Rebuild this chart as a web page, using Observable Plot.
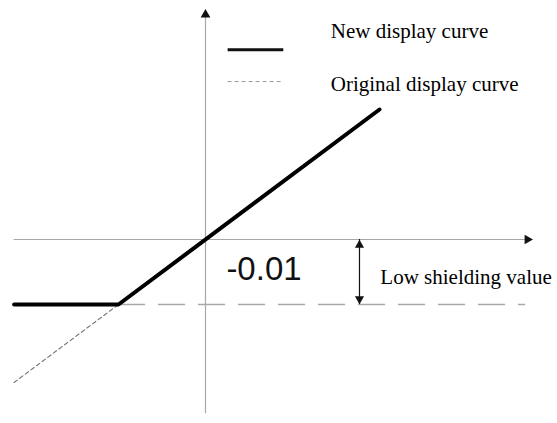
<!DOCTYPE html>
<html>
<head>
<meta charset="utf-8">
<script src="https://cdn.jsdelivr.net/npm/d3@7"></script>
<script src="https://cdn.jsdelivr.net/npm/@observablehq/plot@0.6"></script>
<style>
  html, body { margin: 0; padding: 0; background: #fff; }
</style>
</head>
<body>
<div id="chart"></div>
<script>
// ---- diagram values (data units) ----
const lowShielding = -0.01;                 // low shielding value
const inputRange = [-0.022, 0.02];          // extent of the display curves
const xAxisRange = [-0.022, 0.037];
const yAxisRange = [-0.0268, 0.0346];
const floorEnd = 0.0368;                    // end of the dashed floor line
const markerX = 0.0177;                     // x of the double-headed arrow
const legendLabels = ["New display curve", "Original display curve"];
const legendLineX = [0.0026, 0.009];
const legendLineY = [0.0292, 0.0243];
const legendTextX = 0.0144;
const legendTextY = [0.0310, 0.0229];
const valueLabel = "-0.01";
const valueLabelPos = [0.0024, -0.0063];
const rangeLabel = "Low shielding value";
const rangeLabelPos = [0.0201, -0.0068];

// new curve: clipped at low shielding value, identity above
const newCurve = [
  {x: inputRange[0], y: lowShielding},
  {x: lowShielding, y: lowShielding},
  {x: inputRange[1], y: inputRange[1]}
];
// original curve below the clip point
const origCurve = [
  {x: inputRange[0], y: inputRange[0]},
  {x: lowShielding, y: lowShielding}
];

const pxX = 8700, pxY = 6500;
const chart = Plot.plot({
  width: 557,
  height: 423,
  marginTop: 0, marginBottom: 0, marginLeft: 0, marginRight: 0,
  x: {domain: [-205 / pxX, 352 / pxX], axis: null},
  y: {domain: [(239 - 423) / pxY, 239 / pxY], axis: null},
  style: {background: "#fff", overflow: "visible"},
  marks: [
    // axes
    Plot.ruleY([0], {x1: xAxisRange[0], x2: xAxisRange[1], stroke: "#a8a8a8", strokeWidth: 1.2}),
    Plot.ruleX([0], {y1: yAxisRange[0], y2: yAxisRange[1], stroke: "#a8a8a8", strokeWidth: 1.2}),
    Plot.dot([{x: xAxisRange[1], y: 0}], {x: "x", y: "y", symbol: "triangle", r: 3.6, fill: "#111", stroke: null, rotate: 90}),
    Plot.dot([{x: 0, y: yAxisRange[1]}], {x: "x", y: "y", symbol: "triangle", r: 3.6, fill: "#111", stroke: null}),
    // dashed floor
    Plot.ruleY([lowShielding], {x1: lowShielding, x2: floorEnd, stroke: "#a8a8a8", strokeWidth: 1.3, strokeDasharray: "27,13"}),
    // original curve
    Plot.line(origCurve, {x: "x", y: "y", stroke: "#707070", strokeWidth: 1.1, strokeDasharray: "4,3"}),
    // new curve
    Plot.line(newCurve, {x: "x", y: "y", stroke: "#000", strokeWidth: 4, strokeLinejoin: "miter"}),
    // double-headed arrow
    Plot.ruleX([markerX], {y1: 0, y2: lowShielding, stroke: "#111", strokeWidth: 1.2}),
    Plot.dot([{x: markerX, y: 0}], {x: "x", y: "y", symbol: "triangle", r: 3.4, fill: "#111", stroke: null, dy: 5.5}),
    Plot.dot([{x: markerX, y: lowShielding}], {x: "x", y: "y", symbol: "triangle", r: 3.4, fill: "#111", stroke: null, dy: -5.5, rotate: 180}),
    // labels
    Plot.text([valueLabel], {x: valueLabelPos[0], y: valueLabelPos[1], text: d => d, textAnchor: "start", lineAnchor: "bottom", fontSize: 33, fontFamily: "Liberation Sans, Arial, sans-serif", fill: "#111"}),
    Plot.text([rangeLabel], {x: rangeLabelPos[0], y: rangeLabelPos[1], text: d => d, textAnchor: "start", lineAnchor: "bottom", fontSize: 21, fontFamily: "Liberation Serif, Times New Roman, serif", fill: "#000"}),
    // legend
    Plot.ruleY([legendLineY[0]], {x1: legendLineX[0], x2: legendLineX[1], stroke: "#111", strokeWidth: 3}),
    Plot.ruleY([legendLineY[1]], {x1: legendLineX[0], x2: legendLineX[1], stroke: "#999", strokeWidth: 1, strokeDasharray: "4,3"}),
    Plot.text(legendLabels, {x: legendTextX, y: (d, i) => legendTextY[i], text: d => d, textAnchor: "start", lineAnchor: "bottom", fontSize: 21, fontFamily: "Liberation Serif, Times New Roman, serif", fill: "#000"})
  ]
});
document.getElementById("chart").appendChild(chart);
</script>
</body>
</html>
